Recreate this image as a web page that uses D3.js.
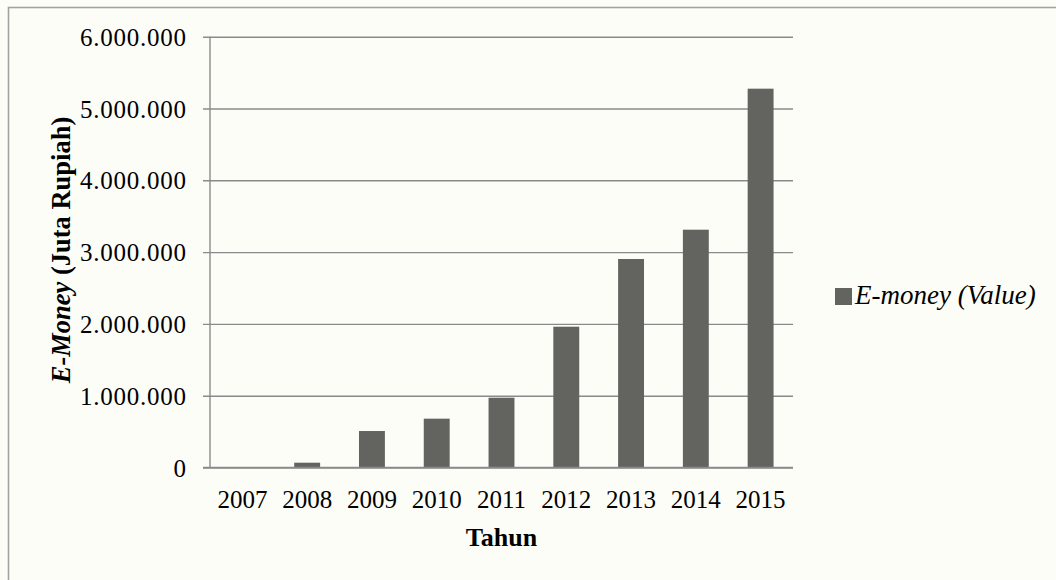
<!DOCTYPE html>
<html>
<head>
<meta charset="utf-8">
<script src="https://cdn.jsdelivr.net/npm/d3@7"></script>
<style>
  html, body { margin: 0; padding: 0; background: #fdfdf8; }
  svg { display: block; }
  text { font-family: "Liberation Serif", "Times New Roman", serif; fill: #000; }
</style>
</head>
<body>
<svg id="chart" width="1056" height="580"></svg>
<script>
const years = ["2007", "2008", "2009", "2010", "2011", "2012", "2013", "2014", "2015"];
const emoneyValues = [2000, 67000, 508000, 680000, 972000, 1961000, 2904000, 3312000, 5276000];
const yTicks = [0, 1000000, 2000000, 3000000, 4000000, 5000000, 6000000];
const seriesName = "E-money (Value)";

(function () {
const svg = d3.select("#chart");

// outer frame
svg.append("rect")
  .attr("x", 8.5).attr("y", 7.5)
  .attr("width", 1060).attr("height", 600)
  .attr("fill", "#fdfdf8")
  .attr("stroke", "#a2a2a2").attr("stroke-width", 1.6);

const pLeft = 210, pRight = 793, pTop = 36.7, pBottom = 467.5;

const x = d3.scaleBand().domain(years).range([pLeft, pRight])
  .paddingInner(0.6).paddingOuter(0.3);
const y = d3.scaleLinear().domain([0, 6000000]).range([pBottom, pTop]);

const loc = d3.formatLocale({ decimal: ",", thousands: ".", grouping: [3], currency: ["", ""] });
const fmt = loc.format(",d");

// gridlines + y axis
const yAxis = d3.axisLeft(y).tickValues(yTicks)
  .tickSize(-(pRight - pLeft)).tickSizeOuter(0).tickPadding(0).tickFormat(fmt);
const gy = svg.append("g").attr("transform", `translate(${pLeft},0)`).call(yAxis);
gy.select(".domain").remove();
gy.selectAll(".tick line")
  .attr("x1", -7).attr("x2", pRight - pLeft)
  .attr("stroke", "#8a8a8a").attr("stroke-width", 1.4);
gy.selectAll(".tick text")
  .attr("x", -23.3).attr("dy", "0.34em")
  .style("font-size", "25px").style("font-family", "Liberation Serif, serif")
  .style("letter-spacing", "0.75px")
  .attr("fill", "#000");

// vertical axis line
svg.append("line")
  .attr("x1", pLeft).attr("x2", pLeft).attr("y1", y(6000000)).attr("y2", y(0))
  .attr("stroke", "#8a8a8a").attr("stroke-width", 1.4);

// bars
svg.append("g").selectAll("rect").data(years).join("rect")
  .attr("x", d => x(d))
  .attr("width", x.bandwidth())
  .attr("y", (d, i) => y(emoneyValues[i]))
  .attr("height", (d, i) => y(0) - y(emoneyValues[i]))
  .attr("fill", "#636360");

// baseline over bars
svg.append("line")
  .attr("x1", pLeft - 7).attr("x2", pRight).attr("y1", y(0)).attr("y2", y(0))
  .attr("stroke", "#8a8a8a").attr("stroke-width", 1.4);

// x axis labels
const xAxis = d3.axisBottom(x).tickSize(0).tickPadding(0);
const gx = svg.append("g").attr("transform", `translate(0,${pBottom})`).call(xAxis);
gx.select(".domain").remove();
gx.selectAll(".tick text")
  .attr("y", 40).attr("dy", 0)
  .style("font-size", "25px").style("font-family", "Liberation Serif, serif")
  .attr("fill", "#000");

// x title
svg.append("text")
  .attr("x", (pLeft + pRight) / 2).attr("y", 546)
  .attr("text-anchor", "middle")
  .style("font-size", "26px").style("font-weight", "bold")
  .text("Tahun");

// y title
const yt = svg.append("text")
  .attr("transform", "translate(70,250) rotate(-90)")
  .attr("text-anchor", "middle")
  .style("font-size", "26.5px").style("font-weight", "bold");
yt.append("tspan").style("font-style", "italic").text("E-Money");
yt.append("tspan").text(" (Juta Rupiah)");

// legend
svg.append("rect")
  .attr("x", 835).attr("y", 288).attr("width", 17).attr("height", 17)
  .attr("fill", "#636360");
svg.append("text")
  .attr("x", 855).attr("y", 304)
  .style("font-size", "27px").style("font-style", "italic")
  .text(seriesName);
})();
</script>
</body>
</html>
